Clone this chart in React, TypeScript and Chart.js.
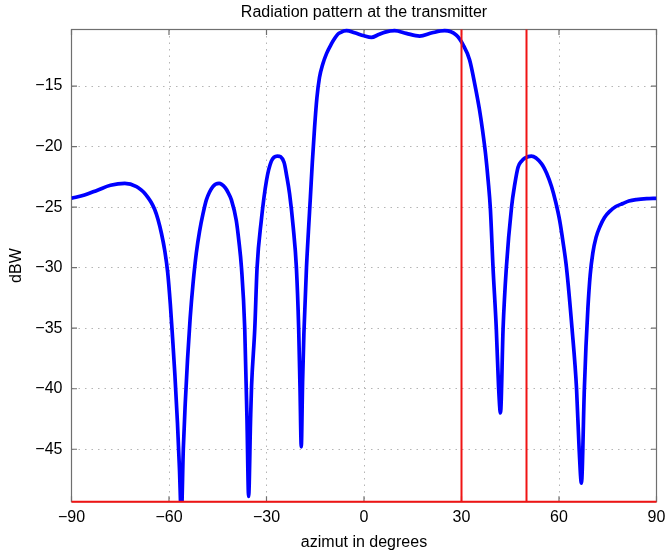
import React, { useEffect, useRef } from "react";
import { Chart, registerables } from "chart.js";

Chart.register(...registerables);

// ---- data ----
const azimuthDeg = [
  -90, -86, -82, -78, -73.6, -70, -68.5, -67.5, -66.5, -65.5, -64.4, -63.4, -62.3, -61.3, -60.4,
  -59.6, -58.9, -58.2, -57.4, -56.8, -56.2,
  -55.6, -55.0, -54.3, -53.5, -52.6, -51.6, -50.6, -49.5, -48.5, -46.5, -44.6, -42.7, -41.8, -40.8,
  -39.3, -38.5, -37.7, -36.7,
  -36.0, -35.5, -34.9, -34.6, -33.6, -32.9, -31.6, -30.0, -28.5, -26.7, -24.6, -23.8, -22.9,
  -21.8, -20.8, -20.1, -19.7, -19.3, -18.9, -18.5, -17.7, -17.1, -16.5, -15.9, -15.2, -14.5,
  -13.7, -12.7, -11.5, -10.0, -9.0, -8.0, -7.0, -6.2, -5.4, -2.9, 0, 2.3, 4.5, 6.5, 9.4, 13.0,
  17.1, 21.0, 24.8, 28.4, 30.5, 32.5, 34.2, 35.5, 36.5, 37.4, 38.2, 38.9, 39.7, 40.7, 41.4, 42.0, 42.8,
  43.8, 45.4, 46.4, 47.4, 48.5, 49.5, 51.5, 54.6, 56.2, 57.7, 59.0, 60.2, 61.3, 62.3, 64.0,
  65.4, 66.2, 66.9, 67.8, 68.3, 68.9, 69.6, 70.4, 71.4, 72.6, 74.0, 75.6, 77.5, 79.7, 81.5, 83.8,
  87, 90,
];
const powerDbw = [
  -24.27, -24.0, -23.6, -23.2, -23.04, -23.3, -23.6, -23.85, -24.2, -24.6, -25.2, -26.0, -27.2, -28.6, -30.4,
  -33.0, -35.8, -38.8, -42.8, -46.5, -50.5,
  -45.0, -41.2, -37.6, -34.2, -31.3, -28.8, -27.0, -25.5, -24.4, -23.3, -23.04, -23.4, -23.8, -24.4,
  -26.1, -27.8, -30.0, -35.0,
  -42.6, -48.9, -42.5, -39.8, -35.0, -30.0, -26.1, -22.8, -21.2, -20.78, -21.3, -22.4, -23.9,
  -26.6, -30.0, -35.0, -39.8, -44.8, -39.5, -35.5, -30.0, -27.0, -24.2, -21.3, -18.4, -16.0,
  -14.3, -13.2, -12.3, -11.5, -11.05, -10.7, -10.55, -10.45, -10.43, -10.6, -10.85, -10.98, -10.75, -10.55, -10.43, -10.65,
  -10.87, -10.6, -10.43, -10.8, -11.6, -12.85, -15.0, -16.9, -18.7, -20.6, -22.8, -25.2, -30.0, -35.0, -39.8, -42.0, -35.0,
  -30.0, -25.0, -23.1, -21.7, -21.2, -20.95, -20.78, -21.4, -22.2, -23.3, -24.6, -26.1, -28.0, -30.0, -35.0,
  -40.0, -45.0, -47.8, -40.0, -36.5, -33.3, -30.6, -28.8, -27.5, -26.6, -25.85, -25.35, -24.95, -24.7, -24.5, -24.38,
  -24.3, -24.27,
];
const sectorEdgesDeg = [30, 50];
const xTickValues = [-90, -60, -30, 0, 30, 60, 90];
const yTickValues = [-45, -40, -35, -30, -25, -20, -15];
const X_MIN = -90;
const X_MAX = 90;
const Y_MIN = -49.33;
const Y_MAX = -10.33;
const TITLE = "Radiation pattern at the transmitter";
const X_LABEL = "azimut in degrees";
const Y_LABEL = "dBW";

const FONT = '"Liberation Sans", Arial, Helvetica, sans-serif';

const fmt = (v: number | string) => {
  const n = Number(v);
  return n < 0 ? "\u2212" + Math.abs(n) : String(n);
};

const matlabFrame = {
  id: "matlabFrame",
  beforeDatasetsDraw(chart: any) {
    const { ctx, chartArea: a, scales } = chart;
    ctx.save();
    ctx.strokeStyle = "#6f6f6f";
    ctx.lineWidth = 1.2;
    ctx.strokeRect(a.left, a.top, a.right - a.left, a.bottom - a.top);
    const L = 5.5;
    ctx.beginPath();
    for (const v of xTickValues) {
      const px = scales.x.getPixelForValue(v);
      ctx.moveTo(px, a.bottom);
      ctx.lineTo(px, a.bottom - L);
      ctx.moveTo(px, a.top);
      ctx.lineTo(px, a.top + L);
    }
    for (const v of yTickValues) {
      const py = scales.y.getPixelForValue(v);
      ctx.moveTo(a.left, py);
      ctx.lineTo(a.left + L, py);
      ctx.moveTo(a.right, py);
      ctx.lineTo(a.right - L, py);
    }
    ctx.stroke();
    ctx.restore();
  },
  afterDraw(chart: any) {
    const { ctx, chartArea: a } = chart;
    ctx.save();
    ctx.fillStyle = "#000";
    ctx.font = `16px ${FONT}`;
    ctx.textAlign = "center";
    ctx.textBaseline = "alphabetic";
    ctx.fillText(TITLE, (a.left + a.right) / 2, 16.7);
    ctx.restore();
  },
};

export default function App() {
  const ref = useRef<HTMLCanvasElement | null>(null);

  useEffect(() => {
    if (!ref.current) return;
    Chart.defaults.font.family = FONT;
    const redLine = {
      borderColor: "#f01414",
      borderWidth: 2,
      pointRadius: 0,
      tension: 0,
      clip: 2,
    };
    const chart = new Chart(ref.current, {
      type: "line",
      data: {
        datasets: [
          ...sectorEdgesDeg.map((e) => ({
            ...redLine,
            data: [
              { x: e, y: Y_MIN },
              { x: e, y: Y_MAX },
            ],
          })),
          {
            ...redLine,
            data: [
              { x: X_MIN, y: Y_MIN },
              { x: X_MAX, y: Y_MIN },
            ],
          },
          {
            data: azimuthDeg.map((x, i) => ({ x, y: powerDbw[i] })),
            borderColor: "#0000ff",
            borderWidth: 3.7,
            pointRadius: 0,
            cubicInterpolationMode: "monotone",
            clip: { left: 0, right: 0, top: 2, bottom: 0 },
          },
        ],
      } as any,
      options: {
        animation: false,
        responsive: false,
        devicePixelRatio: 1,
        layout: { padding: { top: 29.5, right: 8.5, bottom: 0, left: 0 } },
        plugins: {
          legend: { display: false },
          tooltip: { enabled: false },
          title: { display: false },
        },
        scales: {
          x: {
            type: "linear",
            min: X_MIN,
            max: X_MAX,
            afterBuildTicks: (s: any) => {
              s.ticks = xTickValues.map((v) => ({ value: v }));
            },
            afterFit: (s: any) => {
              s.height = 53.3;
              s.paddingLeft = 0;
              s.paddingRight = 0;
            },
            ticks: {
              callback: (v: any) => fmt(v),
              padding: 6,
              color: "#000",
              font: { size: 16 },
              maxRotation: 0,
              autoSkip: false,
            },
            grid: { color: "#b5b5b5", lineWidth: 1, drawTicks: false },
            border: { display: false, dash: [1.5, 5] },
            title: {
              display: true,
              text: X_LABEL,
              color: "#000",
              font: { size: 16 },
              padding: { top: 0, bottom: 2.4 },
            },
          },
          y: {
            type: "linear",
            min: Y_MIN,
            max: Y_MAX,
            afterBuildTicks: (s: any) => {
              s.ticks = yTickValues.map((v) => ({ value: v }));
            },
            afterFit: (s: any) => {
              s.width = 71.5;
              s.paddingTop = 0;
              s.paddingBottom = 0;
            },
            ticks: {
              callback: (v: any) => fmt(v),
              padding: 9,
              color: "#000",
              font: { size: 16 },
            },
            grid: { color: "#b5b5b5", lineWidth: 1, drawTicks: false },
            border: { display: false, dash: [1.5, 5] },
            title: {
              display: true,
              text: Y_LABEL,
              color: "#000",
              font: { size: 16 },
              padding: { top: 7.4, bottom: 0 },
            },
          },
        },
      } as any,
      plugins: [matlabFrame],
    });
    return () => chart.destroy();
  }, []);

  return (
    <div
      style={{
        position: "fixed",
        left: 0,
        top: 0,
        width: 665,
        height: 555,
        background: "#fff",
      }}
    >
      <canvas ref={ref} width={665} height={555} style={{ display: "block" }} />
    </div>
  );
}
